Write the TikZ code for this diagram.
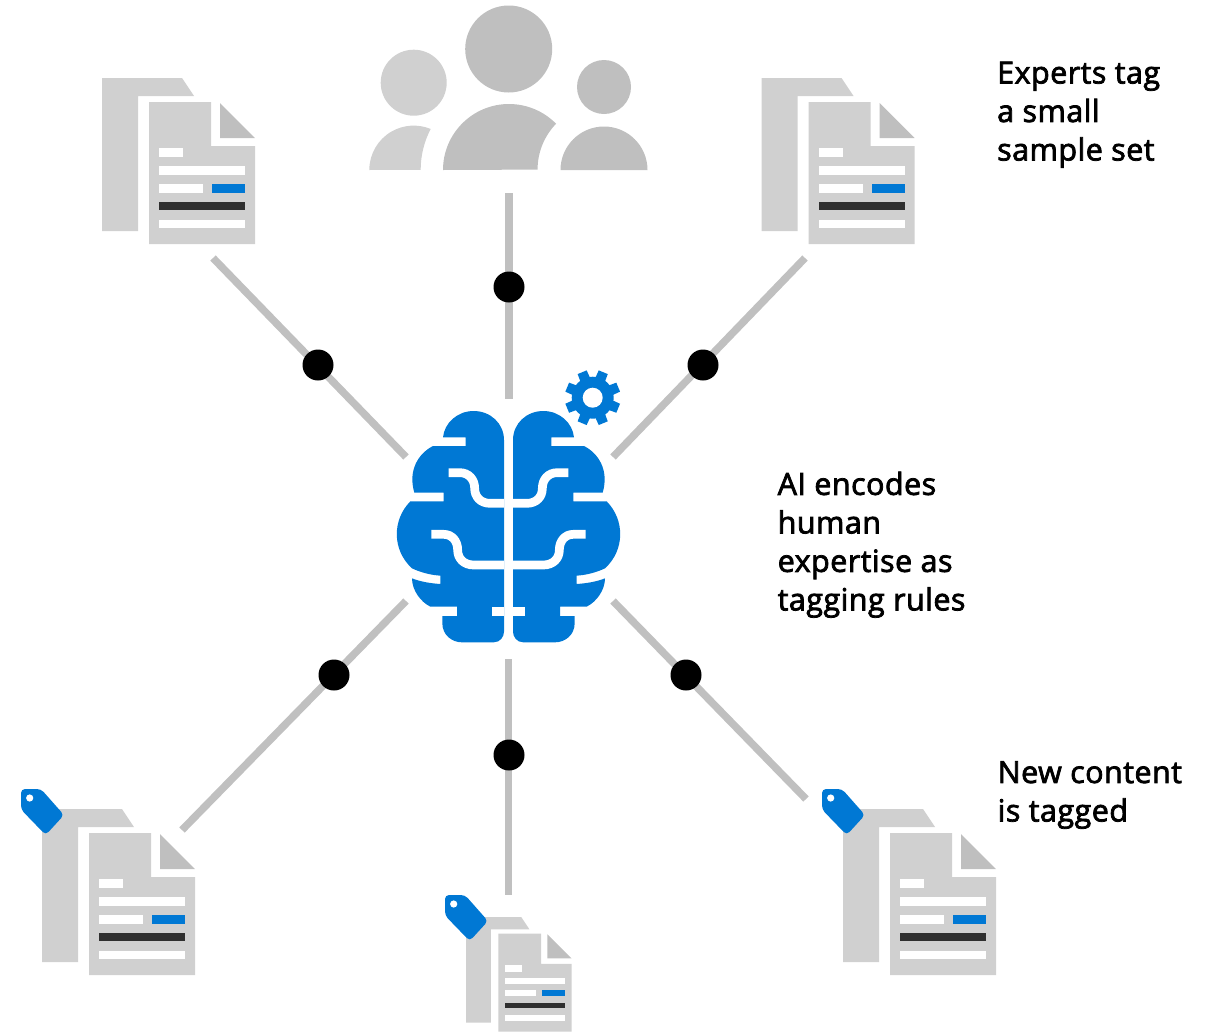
\documentclass[tikz,border=0pt]{standalone}
\usepackage{fontspec}
\setmainfont{Open Sans}[FakeBold=2.5,LetterSpace=1.5]
\definecolor{msblue}{HTML}{0078D4}
\definecolor{sheet}{HTML}{D0D0D0}
\definecolor{sheetdark}{HTML}{BFBFBF}
\definecolor{inkbar}{HTML}{2F2F2F}
\definecolor{linkgray}{HTML}{C0C0C0}
\tikzset{
  link/.style={draw=linkgray,line width=7.5pt},
  hub/.style={circle,fill=black,minimum size=31pt,inner sep=0pt},
  caption/.style={anchor=north west,align=left,inner sep=0pt,font=\fontsize{30.5pt}{38.5pt}\selectfont,text=black},
  cut/.style={draw=white,line width=8.7pt}
}
\newcommand{\docicon}[3]{%
\begin{scope}[shift={(#1,#2)},scale=#3]
  \fill[sheet] (0,0)--(80,0)--(92,18)--(36,18)--(36,153)--(0,153)--cycle;
  \fill[sheet] (47,24)--(109,24)--(109,68)--(153,68)--(153,166)--(47,166)--cycle;
  \fill[sheetdark] (118,25)--(153,60)--(118,60)--cycle;
  \fill[white] (57,70) rectangle (81,79);
  \fill[white] (57,88) rectangle (143,97);
  \fill[white] (57,106) rectangle (101,115);
  \fill[msblue] (110,106) rectangle (143,115);
  \fill[inkbar] (57,124) rectangle (143,132);
  \fill[white] (57,142) rectangle (143,150);
\end{scope}}
\newcommand{\tagicon}[2]{%
\begin{scope}[shift={(#1,#2)}]
  \fill[msblue,rounded corners=4pt] (-21,-20)--(-1,-20)--(22,6)--(3.7,26)--(-21,0.5)--cycle;
  \fill[white] (-12.3,-11) circle[radius=3.6];
\end{scope}}
\newcommand{\brainhalf}{%
  \fill[msblue] (399,240) .. controls (399,190) and (440,153) .. (490,153)
    .. controls (540,153) and (578,190) .. (582,232) -- (514,232) -- (514,258) -- (612,258)
    .. controls (655,280) and (688,330) .. (668,398) -- (580,398) -- (580,424) -- (680,424)
    .. controls (735,480) and (735,570) .. (675,625)
    .. controls (650,637) and (620,645) .. (590,647) -- (590,672)
    .. controls (620,670) and (650,665) .. (675,655)
    .. controls (675,690) and (650,725) .. (620,740) -- (540,740) -- (540,768) -- (584,768) -- (584,790)
    .. controls (584,825) and (555,847) .. (525,847) -- (430,847)
    .. controls (410,847) and (399,830) .. (399,815) -- cycle;
  \draw[cut] (399,430) -- (440,430) .. controls (470,430) and (487,410) .. (487,385)
    .. controls (487,358) and (505,338) .. (532,338) -- (565,338);
  \draw[cut] (399,615) -- (490,615) .. controls (520,615) and (538,595) .. (538,570)
    .. controls (538,543) and (555,523) .. (580,523) -- (617,523);
  \draw[cut] (399,755) -- (435,755);
}
\begin{document}
\begin{tikzpicture}[x=1pt,y=-1pt]
\useasboundingbox (0,0) rectangle (1215,1031);
% connector ends
\coordinate (tcA) at (509,193);  \coordinate (tcB) at (509,399);
\coordinate (tlA) at (213,258);  \coordinate (tlB) at (406,457);
\coordinate (trA) at (805,258);  \coordinate (trB) at (613,457);
\coordinate (blA) at (406,601);  \coordinate (blB) at (182,830);
\coordinate (brA) at (613,601);  \coordinate (brB) at (806,799);
\coordinate (bcA) at (508.5,659);\coordinate (bcB) at (508.5,895);
\foreach \a/\b in {tcA/tcB,tlA/tlB,trA/trB,blA/blB,brA/brB,bcA/bcB}{\draw[link] (\a) -- (\b);}
\node[hub] (h1) at (509,287) {};
\node[hub] (h2) at (318,365) {};
\node[hub] (h3) at (703,365) {};
\node[hub] (h4) at (334,675) {};
\node[hub] (h5) at (686,675) {};
\node[hub] (h6) at (509,755) {};
% people
\fill[sheetdark] (508.7,49) circle[radius=43.5];
\fill[sheet] (413.7,82.7) circle[radius=33];
\fill[sheetdark] (604,87) circle[radius=27];
\fill[sheetdark] (443,170) arc[start angle=180,end angle=315.5,radius=66] arc[start angle=224,end angle=180,radius=66] -- cycle;
\fill[sheetdark] (560.5,170) arc[start angle=180,end angle=360,radius=43.5] -- cycle;
\fill[sheet] (369.3,170) arc[start angle=180,end angle=292.5,radius=44.4] arc[start angle=207.6,end angle=180,radius=88] -- cycle;
% documents
\docicon{102}{78}{1}
\docicon{761.5}{78}{1}
\docicon{42}{809}{1}\tagicon{42}{809}
\docicon{843}{809}{1}\tagicon{843}{809}
\docicon{466}{917}{0.69}\tagicon{466}{915}
% brain
\begin{scope}[shift={(380,360)},scale=1/3]
  \brainhalf
  \begin{scope}[shift={(771,0)},xscale=-1]\brainhalf\end{scope}
\end{scope}
% gear
\begin{scope}[shift={(592.7,397.7)},scale=1/3]
  \fill[msblue] (0,0) circle[radius=63];
  \foreach \t in {22.5,67.5,...,360}{\fill[msblue] (\t-15:60)--(\t-10:84)--(\t+10:84)--(\t+15:60)--cycle;}
  \fill[white] (0,0) circle[radius=30];
\end{scope}
% captions
\node[caption] (c1) at (997,61.5) {Experts tag\\a small\\sample set};
\node[caption] (c2) at (777.5,471.5) {AI encodes\\human\\expertise as\\tagging rules};
\node[caption] (c3) at (997.5,761) {New content\\is tagged};
\end{tikzpicture}
\end{document}
